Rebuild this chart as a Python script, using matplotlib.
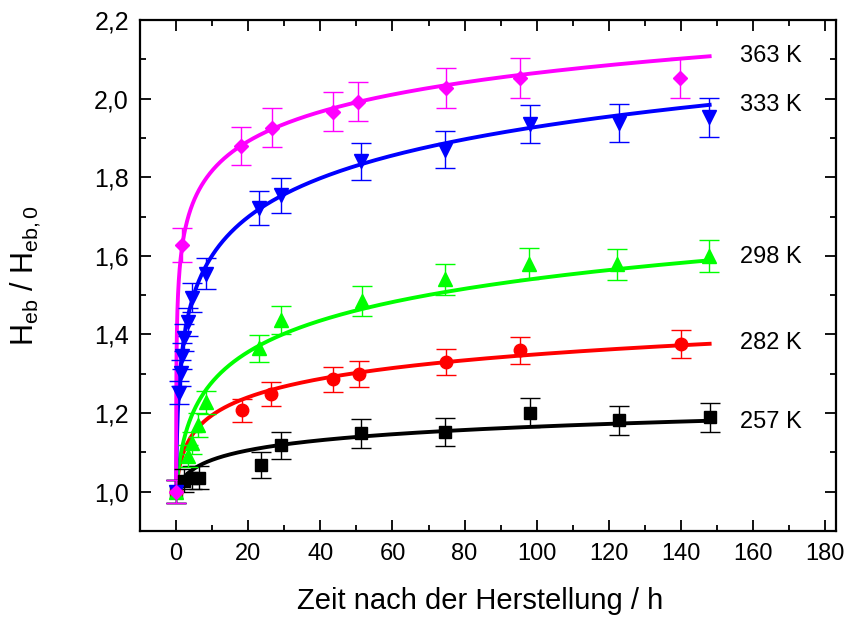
import numpy as np
import matplotlib
matplotlib.use("Agg")
import matplotlib.pyplot as plt
from matplotlib.ticker import MultipleLocator, FuncFormatter

plt.rcParams['font.family'] = ['Liberation Sans', 'DejaVu Sans']
plt.rcParams['mathtext.fontset'] = 'custom'
plt.rcParams['mathtext.rm'] = 'Liberation Sans'
plt.rcParams['mathtext.it'] = 'Liberation Sans:italic'

# Measured exchange-bias ratio vs. time after preparation, per temperature
t_257 = [0, 2.2, 4.4, 6.4, 23.5, 29.0, 51.2, 74.6, 98.2, 122.7, 148.0]
y_257 = [1.0, 1.028, 1.036, 1.036, 1.068, 1.118, 1.148, 1.151, 1.201, 1.182, 1.189]
e_257 = [0.03, 0.03, 0.03, 0.03, 0.032, 0.035, 0.036, 0.036, 0.037, 0.037, 0.037]

t_282 = [0, 18.2, 26.4, 43.5, 50.6, 74.8, 95.4, 140.0]
y_282 = [1.0, 1.207, 1.248, 1.286, 1.300, 1.330, 1.360, 1.375]
e_282 = [0.03, 0.03, 0.031, 0.032, 0.033, 0.034, 0.034, 0.036]

t_298 = [0, 3.4, 4.4, 6.2, 8.2, 23.0, 29.0, 51.5, 74.5, 98.0, 122.4, 147.8]
y_298 = [1.0, 1.09, 1.125, 1.17, 1.227, 1.365, 1.436, 1.485, 1.540, 1.580, 1.578, 1.599]
e_298 = [0.03, 0.028, 0.028, 0.03, 0.03, 0.034, 0.036, 0.038, 0.039, 0.040, 0.040, 0.041]

t_333 = [0, 0.8, 1.3, 1.75, 2.3, 3.4, 4.4, 8.2, 23.0, 29.0, 51.2, 74.6, 98.2, 122.7, 147.8]
y_333 = [1.0, 1.252, 1.303, 1.345, 1.392, 1.432, 1.493, 1.555, 1.721, 1.754, 1.840, 1.870, 1.935, 1.937, 1.952]
e_333 = [0.03, 0.03, 0.033, 0.034, 0.035, 0.036, 0.037, 0.039, 0.043, 0.044, 0.046, 0.047, 0.048, 0.048, 0.049]

t_363 = [0, 1.75, 17.9, 26.7, 43.4, 50.5, 74.8, 95.4, 139.8]
y_363 = [1.0, 1.628, 1.880, 1.926, 1.967, 1.992, 2.028, 2.053, 2.053]
e_363 = [0.03, 0.044, 0.048, 0.049, 0.05, 0.05, 0.051, 0.051, 0.051]

# Logarithmic relaxation fits: y = 1 + B * ln(1 + t / tau)
fit_B = [0.0387, 0.0688, 0.119, 0.143, 0.108]
fit_tau = [1.41, 0.627, 1.06, 0.152, 0.0052]
fit_tmax = 148.5

labels = ["257 K", "282 K", "298 K", "333 K", "363 K"]
label_y = [1.177, 1.377, 1.597, 1.983, 2.108]
label_x = 156.5

colors = ["#000000", "#FF0000", "#00FF00", "#0000FF", "#FF00FF"]
markers = ["s", "o", "^", "v", "D"]
msizes = [8, 9, 10, 10, 7.5]

series = [(t_257, y_257, e_257), (t_282, y_282, e_282), (t_298, y_298, e_298),
          (t_333, y_333, e_333), (t_363, y_363, e_363)]

fig = plt.figure(figsize=(8.56, 6.28), dpi=100)
ax = fig.add_axes([0.1636, 0.1545, 0.9766 - 0.1636, 0.9682 - 0.1545])

tt = np.concatenate([[0.0], np.geomspace(1e-5, fit_tmax, 3000)])
for (t, y, e), B, tau, c, m, ms, lab, ly in zip(series, fit_B, fit_tau, colors,
                                                 markers, msizes, labels, label_y):
    ax.plot(tt, 1 + B * np.log1p(tt / tau), color=c, lw=2.8, zorder=2,
            solid_capstyle='butt')
    ax.errorbar(t, y, yerr=e, fmt=m, color=c, ms=ms, mec=c, mfc=c,
                ecolor=c, elinewidth=1.0, capsize=7, capthick=1.0, zorder=3)
    ax.text(label_x, ly, lab, fontsize=17, va='center', ha='left')

ax.set_xlim(-10, 183)
ax.set_ylim(0.9, 2.2)
ax.xaxis.set_major_locator(MultipleLocator(20))
ax.xaxis.set_minor_locator(MultipleLocator(10))
ax.yaxis.set_major_locator(MultipleLocator(0.2))
ax.yaxis.set_minor_locator(MultipleLocator(0.1))
ax.yaxis.set_major_formatter(FuncFormatter(lambda v, p: f"{v:.1f}".replace('.', ',')))

ax.tick_params(which='both', direction='in', top=True, right=True, width=1.3)
ax.tick_params(which='major', length=8)
ax.tick_params(which='minor', length=4.5)
ax.tick_params(axis='x', pad=9, labelsize=17)
ax.tick_params(axis='y', pad=8, labelsize=18)
for s in ax.spines.values():
    s.set_linewidth(1.6)

ax.set_xlabel("Zeit nach der Herstellung / h", fontsize=21)
ax.xaxis.set_label_coords(0.489, -0.11)
ax.set_ylabel(r"H$_{\mathrm{eb}}$ / H$_{\mathrm{eb,0}}$", fontsize=22)
ax.yaxis.set_label_coords(-0.14, 0.5)

fig.savefig("out.png", dpi=100)
